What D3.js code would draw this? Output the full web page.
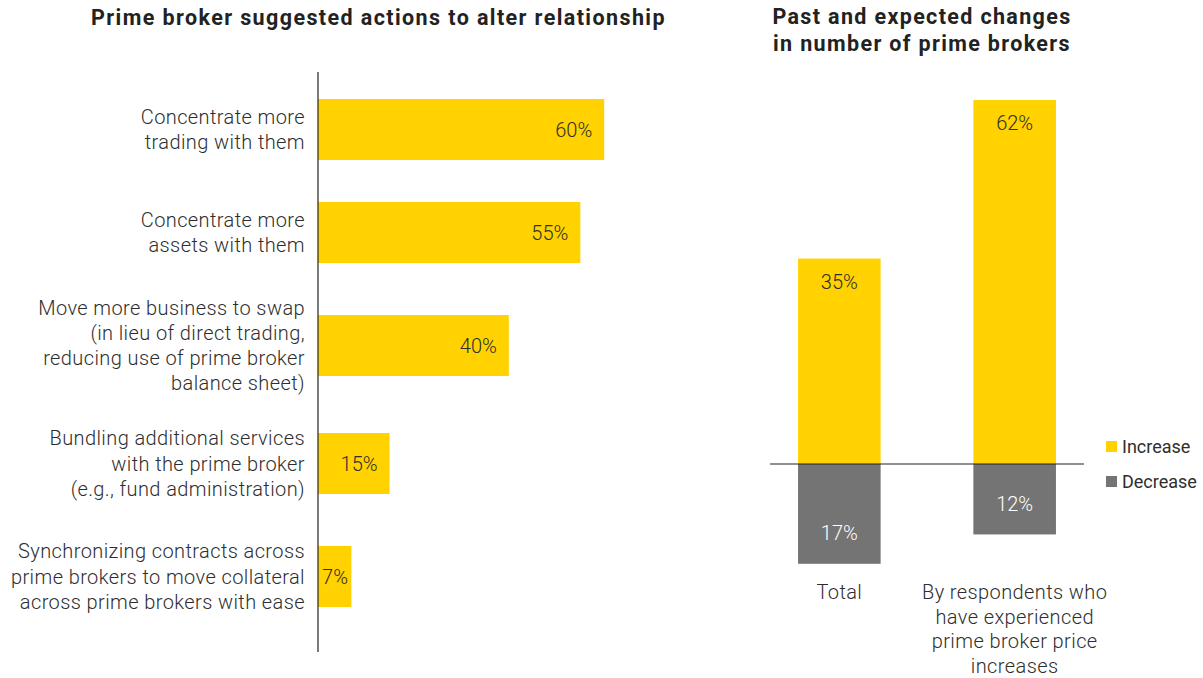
<!DOCTYPE html>
<html>
<head>
<meta charset="utf-8">
<script src="https://cdn.jsdelivr.net/npm/d3@7"></script>
<style>
  html, body { margin: 0; padding: 0; background: #ffffff; }
  svg { display: block; font-family: Roboto, "Noto Sans", sans-serif; }
</style>
</head>
<body>
<svg id="chart" width="1203" height="678"></svg>
<script>
// Left panel: suggested actions (each label split into display lines)
const actionLabels = [
  ["Concentrate more", "trading with them"],
  ["Concentrate more", "assets with them"],
  ["Move more business to swap", "(in lieu of direct trading,", "reducing use of prime broker", "balance sheet)"],
  ["Bundling additional services", "with the prime broker", "(e.g., fund administration)"],
  ["Synchronizing contracts across", "prime brokers to move collateral", "across prime brokers with ease"]
];
const actionShares = [60, 55, 40, 15, 7];

// Right panel: change in number of prime brokers
const groupLabels = [
  ["Total"],
  ["By respondents who", "have experienced", "prime broker price", "increases"]
];
const increaseShares = [35, 62];
const decreaseShares = [17, 12];
const legendLabels = ["Increase", "Decrease"];

const titles = {
  left: ["Prime broker suggested actions to alter relationship"],
  right: ["Past and expected changes", "in number of prime brokers"]
};

const YELLOW = "#ffd200";
const GREY = "#747474";
const TEXT = "#2e2e2e";
const BODY_SIZE = 20;
const BODY_SPACING = 0.4;
const fmt = v => v + "%";

const svg = d3.select("#chart");

// ---------- Left panel ----------
const left = svg.append("g");
const xL = d3.scaleLinear().domain([0, 100]).range([318, 795]);

// Rows get more room when their labels run over more lines
const rowCenters = [129.5];
for (let i = 1; i < actionLabels.length; i++) {
  const avgLines = (actionLabels[i - 1].length + actionLabels[i].length) / 2;
  rowCenters.push(rowCenters[i - 1] + 83 + 10 * avgLines);
}
const yL = d3.scaleOrdinal().domain(d3.range(actionShares.length)).range(rowCenters);
const barH = 61;

left.append("text")
  .attr("x", 378.5).attr("y", 25)
  .attr("text-anchor", "middle")
  .attr("font-size", 21.5).attr("font-weight", 700).attr("fill", "#222")
  .attr("letter-spacing", 1.4)
  .text(titles.left[0]);

left.selectAll("rect.bar").data(actionShares).join("rect")
  .attr("class", "bar")
  .attr("x", xL(0))
  .attr("y", (d, i) => yL(i) - barH / 2)
  .attr("width", d => xL(d) - xL(0))
  .attr("height", barH)
  .attr("fill", YELLOW);

left.selectAll("text.val").data(actionShares).join("text")
  .attr("class", "val")
  .attr("x", d => Math.max(xL(d) - 12, xL(0) + 30))
  .attr("y", (d, i) => yL(i) + 7)
  .attr("text-anchor", "end")
  .attr("font-size", BODY_SIZE).attr("font-weight", 300).attr("fill", TEXT)
  .text(fmt);

const lhL = 25.2;
left.selectAll("text.cat").data(actionLabels).join("text")
  .attr("class", "cat")
  .attr("text-anchor", "end")
  .attr("font-size", BODY_SIZE).attr("font-weight", 300).attr("fill", TEXT)
  .attr("letter-spacing", BODY_SPACING)
  .each(function (lines, i) {
    const y0 = yL(i) - (lines.length - 1) * lhL / 2 + 7;
    d3.select(this).selectAll("tspan").data(lines).join("tspan")
      .attr("x", 305)
      .attr("y", (l, j) => y0 + j * lhL)
      .text(l => l);
  });

left.append("line")
  .attr("x1", xL(0)).attr("x2", xL(0))
  .attr("y1", 72).attr("y2", 652)
  .attr("stroke", "#222").attr("stroke-width", 1.2);

// ---------- Right panel ----------
const right = svg.append("g");
const xR = d3.scaleBand().domain(d3.range(groupLabels.length))
  .range([770, 1084]).paddingInner(0.529).paddingOuter(0.16);
const yR = d3.scaleLinear().domain([-20, 70]).range([464 + 20 * 5.87, 464 - 70 * 5.87]);

right.selectAll("text.title").data(titles.right).join("text")
  .attr("class", "title")
  .attr("x", 922)
  .attr("y", (d, i) => 24 + i * 26.5)
  .attr("text-anchor", "middle")
  .attr("font-size", 21.5).attr("font-weight", 700).attr("fill", "#222")
  .attr("letter-spacing", 1.35)
  .text(d => d);

right.selectAll("rect.inc").data(increaseShares).join("rect")
  .attr("class", "inc")
  .attr("x", (d, i) => xR(i))
  .attr("y", d => yR(d))
  .attr("width", xR.bandwidth())
  .attr("height", d => yR(0) - yR(d))
  .attr("fill", YELLOW);

right.selectAll("rect.dec").data(decreaseShares).join("rect")
  .attr("class", "dec")
  .attr("x", (d, i) => xR(i))
  .attr("y", yR(0))
  .attr("width", xR.bandwidth())
  .attr("height", d => yR(-d) - yR(0))
  .attr("fill", GREY);

right.selectAll("text.incv").data(increaseShares).join("text")
  .attr("class", "incv")
  .attr("x", (d, i) => xR(i) + xR.bandwidth() / 2)
  .attr("y", d => yR(d) + 30)
  .attr("text-anchor", "middle")
  .attr("font-size", BODY_SIZE).attr("font-weight", 300).attr("fill", TEXT)
  .text(fmt);

right.selectAll("text.decv").data(decreaseShares).join("text")
  .attr("class", "decv")
  .attr("x", (d, i) => xR(i) + xR.bandwidth() / 2)
  .attr("y", d => yR(-d) - 23.5)
  .attr("text-anchor", "middle")
  .attr("font-size", BODY_SIZE).attr("font-weight", 300).attr("fill", "#ffffff")
  .text(fmt);

right.append("line")
  .attr("x1", 770).attr("x2", 1084)
  .attr("y1", yR(0)).attr("y2", yR(0))
  .attr("stroke", "#222").attr("stroke-width", 1.2);

const lhR = 24.7;
right.selectAll("text.cat").data(groupLabels).join("text")
  .attr("class", "cat")
  .attr("text-anchor", "middle")
  .attr("font-size", BODY_SIZE).attr("font-weight", 300).attr("fill", TEXT)
  .attr("letter-spacing", BODY_SPACING)
  .each(function (lines, i) {
    const cx = xR(i) + xR.bandwidth() / 2;
    d3.select(this).selectAll("tspan").data(lines).join("tspan")
      .attr("x", cx)
      .attr("y", (l, j) => 599 + j * lhR)
      .text(l => l);
  });

// Legend
const legend = right.append("g").attr("transform", "translate(1106,441)");
const legendItems = legend.selectAll("g").data(legendLabels).join("g")
  .attr("transform", (d, i) => `translate(0,${i * 35})`);
legendItems.append("rect")
  .attr("width", 11).attr("height", 11)
  .attr("fill", (d, i) => i === 0 ? YELLOW : GREY);
legendItems.append("text")
  .attr("x", 16).attr("y", 11.5)
  .attr("font-size", 18).attr("font-weight", 400).attr("fill", TEXT)
  .text(d => d);
</script>
</body>
</html>
